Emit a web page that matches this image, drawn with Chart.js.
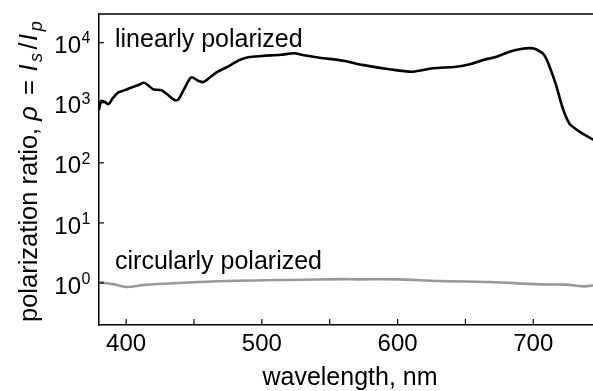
<!DOCTYPE html>
<html><head><meta charset="utf-8">
<script src="https://cdn.jsdelivr.net/npm/chart.js@4"></script>
<style>html,body{margin:0;padding:0;background:#fff}canvas{display:block}</style>
</head><body>
<canvas id="c" width="593" height="391"></canvas>
<script>
// ---- data ----
const linWavelength = [380,381.6,384,387,390,394,399,404,409,413,416,420,426,430,435.6,438.5,443,448,453,457,461.4,467.5,475,480,485,490,500,514,524,530,542.5,560,574,594,611,626,643,654,663,673,682.5,692,698,702,708,712,716.8,721.7,726.6,731,737,744];
const linRatio      = [780,1070,1040,950,1180,1470,1620,1800,1970,2150,1970,1670,1620,1400,1110,1140,1740,2650,2330,2210,2610,3290,3980,4650,5280,5720,6000,6310,6650,6240,5620,5010,4270,3610,3290,3740,3980,4420,5130,5850,7080,7940,8100,7760,6240,3980,1970,810,450,370,300,245];
const circWavelength = [380,384,391,400,413.5,438,475,512,520,561,569.5,599,631,668,705,724,737,744];
const circRatio      = [1.04,1.0,0.95,0.86,0.93,1.0,1.08,1.12,1.12,1.16,1.15,1.15,1.08,1.04,0.95,0.94,0.88,0.91];
const seriesLabels = ['linearly polarized','circularly polarized'];
const xTickValues = [400,450,500,550,600,650,700];
const xTickLabels = ['400','','500','','600','','700'];
const yTickExponents = [0,1,2,3,4];
const xTitle = 'wavelength, nm';
const yTitleParts = [
  {t:'polarization ratio, ', st:'n'},
  {t:'\u03C1', st:'i'},
  {t:' = ', st:'n'},
  {t:'I', st:'i'},
  {t:'s', st:'sub'},
  {t:'/', st:'n'},
  {t:'I', st:'i'},
  {t:'p', st:'sub'}
];

const FONT = '"Liberation Sans", Arial, sans-serif';

const toPts = (xs, ys) => xs.map((x, i) => ({x, y: ys[i]}));

const decor = {
  id: 'decor',
  afterDraw(chart) {
    const ctx = chart.ctx, ca = chart.chartArea;
    const xs = chart.scales.x, ys = chart.scales.y;
    ctx.save();
    ctx.strokeStyle = '#000';
    ctx.fillStyle = '#000';
    // top frame line
    ctx.lineWidth = 1.5;
    ctx.beginPath(); ctx.moveTo(ca.left, ca.top); ctx.lineTo(ca.right, ca.top); ctx.stroke();
    // x ticks (inward) and labels
    ctx.lineWidth = 1.2;
    ctx.font = '24px ' + FONT;
    ctx.textAlign = 'center'; ctx.textBaseline = 'alphabetic';
    xTickValues.forEach((v, i) => {
      const px = xs.getPixelForValue(v);
      ctx.beginPath(); ctx.moveTo(px, ca.bottom); ctx.lineTo(px, ca.bottom - 6); ctx.stroke();
      if (xTickLabels[i]) ctx.fillText(xTickLabels[i], px, ca.bottom + 25.5);
    });
    // y ticks (inward) and 10^n labels
    yTickExponents.forEach(e => {
      const py = ys.getPixelForValue(Math.pow(10, e));
      ctx.beginPath(); ctx.moveTo(ca.left, py); ctx.lineTo(ca.left + 5, py); ctx.stroke();
      ctx.font = '24px ' + FONT; ctx.textAlign = 'right';
      ctx.fillText('10', ca.left - 18, py + 10.6);
      ctx.font = '16px ' + FONT; ctx.textAlign = 'left';
      ctx.fillText(String(e), ca.left - 17.5, py + 0.8);
    });
    // series annotations
    ctx.font = '25px ' + FONT; ctx.textAlign = 'left';
    ctx.fillText(seriesLabels[0], ca.left + 16, ys.getPixelForValue(1e4) + 4);
    ctx.fillText(seriesLabels[1], ca.left + 16, ys.getPixelForValue(1) - 14.4);
    // x title
    ctx.textAlign = 'center';
    ctx.fillText(xTitle, (ca.left + ca.right) / 2 + 4, 385);
    // y title (rotated, mixed styles)
    ctx.save();
    ctx.translate(36.5, 322);
    ctx.rotate(-Math.PI / 2);
    ctx.textAlign = 'left';
    let x = 0;
    yTitleParts.forEach((p, i) => {
      let dy = 0, gap = 0;
      if (p.st === 'n') { ctx.font = '25.5px ' + FONT; gap = i > 0 ? 1.5 : 0; }
      else if (p.st === 'i') { ctx.font = 'italic 25.5px ' + FONT; gap = 2.5; }
      else { ctx.font = 'italic 18px ' + FONT; dy = 5; gap = 2; }
      if (p.st === 'n' && i > 0) x += gap;
      ctx.fillText(p.t, x, dy);
      x += ctx.measureText(p.t).width + gap;
    });
    ctx.restore();
    ctx.restore();
  }
};

new Chart(document.getElementById('c'), {
  type: 'line',
  data: {
    datasets: [
      {label: seriesLabels[0], data: toPts(linWavelength, linRatio), borderColor: '#000', borderWidth: 2.6, tension: 0.3, pointRadius: 0, fill: false},
      {label: seriesLabels[1], data: toPts(circWavelength, circRatio), borderColor: '#999', borderWidth: 2.6, tension: 0.4, pointRadius: 0, fill: false}
    ]
  },
  options: {
    responsive: false,
    animation: false,
    devicePixelRatio: 1,
    layout: {padding: {left: 99, top: 14, right: 0, bottom: 66}},
    plugins: {legend: {display: false}, tooltip: {enabled: false}},
    elements: {line: {borderCapStyle: 'round', borderJoinStyle: 'round'}},
    scales: {
      x: {type: 'linear', min: 380, max: 744,
          ticks: {display: false}, grid: {display: false, drawTicks: false},
          border: {display: true, color: '#000', width: 1.5}},
      y: {type: 'logarithmic', min: 0.2, max: 30000,
          ticks: {display: false}, grid: {display: false, drawTicks: false},
          border: {display: true, color: '#000', width: 1.5}}
    }
  },
  plugins: [decor]
});
</script>
</body></html>
